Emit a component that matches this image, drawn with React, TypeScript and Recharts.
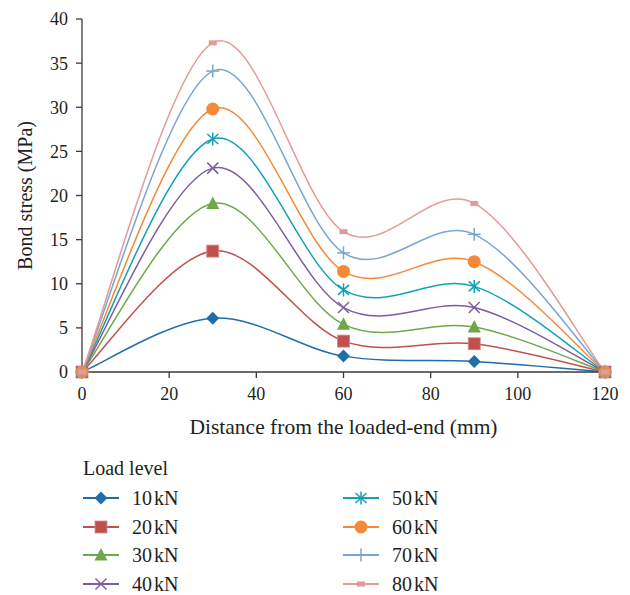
import { Line, LineChart, XAxis, YAxis } from 'recharts';

const DISTANCES = [0, 30, 60, 90, 120];
const LOAD_LEVELS = ['10', '20', '30', '40', '50', '60', '70', '80'];

const STRESS_10 = [0, 6.1, 1.8, 1.2, 0];
const STRESS_20 = [0, 13.7, 3.5, 3.2, 0];
const STRESS_30 = [0, 19.1, 5.4, 5.1, 0];
const STRESS_40 = [0, 23.1, 7.3, 7.3, 0];
const STRESS_50 = [0, 26.4, 9.3, 9.7, 0];
const STRESS_60 = [0, 29.8, 11.4, 12.5, 0];
const STRESS_70 = [0, 34.1, 13.5, 15.6, 0];
const STRESS_80 = [0, 37.3, 15.9, 19.1, 0];

const X_TICKS = [0, 20, 40, 60, 80, 100, 120];
const Y_TICKS = [0, 5, 10, 15, 20, 25, 30, 35, 40];

const SERIES = [
  STRESS_10, STRESS_20, STRESS_30, STRESS_40,
  STRESS_50, STRESS_60, STRESS_70, STRESS_80,
];

const COLORS = [
  '#1F6EAA', '#C0504D', '#6FA84A', '#7C5CA3',
  '#14A0B4', '#F5893A', '#7AA4D3', '#E49A99',
];
const SHAPES = ['diamond', 'square', 'triangle', 'cross', 'star', 'circle', 'plus', 'dash'];

const FONT = '"Liberation Serif", "DejaVu Serif", serif';
const TEXT_COLOR = '#231F20';
const AXIS_COLOR = '#3A3A3A';

const data = DISTANCES.map((x, i) => {
  const row: Record<string, number> = { x };
  LOAD_LEVELS.forEach((l, s) => {
    row[`kn${l}`] = SERIES[s][i];
  });
  return row;
});

// Excel-style smoothed line (Catmull-Rom through the points)
const excelSmooth = (context: any) => {
  let xs: number[] = [];
  let ys: number[] = [];
  return {
    areaStart() {},
    areaEnd() {},
    lineStart() {
      xs = [];
      ys = [];
    },
    point(x: number, y: number) {
      xs.push(+x);
      ys.push(+y);
    },
    lineEnd() {
      const n = xs.length;
      if (!n) return;
      context.moveTo(xs[0], ys[0]);
      for (let i = 0; i < n - 1; i++) {
        const a = Math.max(i - 1, 0);
        const b = Math.min(i + 2, n - 1);
        context.bezierCurveTo(
          xs[i] + (xs[i + 1] - xs[a]) / 6,
          ys[i] + (ys[i + 1] - ys[a]) / 6,
          xs[i + 1] - (xs[b] - xs[i]) / 6,
          ys[i + 1] - (ys[b] - ys[i]) / 6,
          xs[i + 1],
          ys[i + 1],
        );
      }
    },
  };
};

function Marker({ shape, cx, cy, color }: { shape: string; cx: number; cy: number; color: string }) {
  switch (shape) {
    case 'diamond':
      return (
        <polygon
          points={`${cx},${cy - 6.5} ${cx + 6.5},${cy} ${cx},${cy + 6.5} ${cx - 6.5},${cy}`}
          fill={color}
        />
      );
    case 'square':
      return <rect x={cx - 6} y={cy - 6} width={12} height={12} fill={color} stroke="#D98A88" strokeWidth={0.8} />;
    case 'triangle':
      return (
        <polygon
          points={`${cx},${cy - 7} ${cx + 6.5},${cy + 5.5} ${cx - 6.5},${cy + 5.5}`}
          fill={color}
        />
      );
    case 'cross':
      return (
        <g stroke={color} strokeWidth={1.5}>
          <line x1={cx - 5.5} y1={cy - 5.5} x2={cx + 5.5} y2={cy + 5.5} />
          <line x1={cx - 5.5} y1={cy + 5.5} x2={cx + 5.5} y2={cy - 5.5} />
        </g>
      );
    case 'star':
      return (
        <g stroke={color} strokeWidth={1.5}>
          <line x1={cx} y1={cy - 6.5} x2={cx} y2={cy + 6.5} />
          <line x1={cx - 5.5} y1={cy - 5} x2={cx + 5.5} y2={cy + 5} />
          <line x1={cx - 5.5} y1={cy + 5} x2={cx + 5.5} y2={cy - 5} />
        </g>
      );
    case 'circle':
      return <circle cx={cx} cy={cy} r={6.5} fill={color} />;
    case 'plus':
      return (
        <g stroke={color} strokeWidth={1.5}>
          <line x1={cx} y1={cy - 6.5} x2={cx} y2={cy + 6.5} />
          <line x1={cx - 6.5} y1={cy} x2={cx + 6.5} y2={cy} />
        </g>
      );
    default:
      return <rect x={cx - 4} y={cy - 2.5} width={8} height={5} fill={color} />;
  }
}

function LegendBlock() {
  return (
    <div style={{ position: 'absolute', left: 0, top: 0, fontFamily: FONT, color: TEXT_COLOR, fontSize: 20 }}>
      <div style={{ position: 'absolute', left: 83, top: 455, whiteSpace: 'nowrap', lineHeight: '26px' }}>
        Load level
      </div>
      {LOAD_LEVELS.map((l, i) => {
        const col = Math.floor(i / 4);
        const row = i % 4;
        const left = col === 0 ? 83 : 343;
        const cy = 498 + row * 28.6;
        return (
          <div key={l} style={{ position: 'absolute', left, top: cy - 13, height: 26, display: 'flex', alignItems: 'center', whiteSpace: 'nowrap' }}>
            <svg width={36} height={26} style={{ display: 'block' }}>
              <line x1={0} y1={13} x2={36} y2={13} stroke={COLORS[i]} strokeWidth={1.8} />
              <Marker shape={SHAPES[i]} cx={18} cy={13} color={COLORS[i]} />
            </svg>
            <span style={{ marginLeft: 13, lineHeight: '26px' }}>
              {l}
              <span style={{ marginLeft: 2 }}>kN</span>
            </span>
          </div>
        );
      })}
    </div>
  );
}

export default function App() {
  return (
    <div style={{ position: 'absolute', left: 0, top: 0, width: 630, height: 595, background: '#fff' }}>
      <LineChart
        width={630}
        height={595}
        data={data}
        margin={{ top: 19, right: 25, left: 20, bottom: 156 }}
      >
        <XAxis
          type="number"
          dataKey="x"
          domain={[0, 120]}
          ticks={X_TICKS}
          height={67}
          tickSize={6}
          tickMargin={9}
          stroke={AXIS_COLOR}
          strokeWidth={1.3}
          tick={{ fontSize: 18, fill: TEXT_COLOR, fontFamily: FONT }}
          label={{
            value: 'Distance from the loaded-end (mm)',
            position: 'insideBottom',
            offset: 5,
            style: { fontSize: 21.5, fill: TEXT_COLOR, fontFamily: FONT },
          }}
        />
        <YAxis
          type="number"
          domain={[0, 40]}
          ticks={Y_TICKS}
          width={62}
          tickSize={6}
          tickMargin={8}
          stroke={AXIS_COLOR}
          strokeWidth={1.3}
          tick={{ fontSize: 18, fill: TEXT_COLOR, fontFamily: FONT }}
          label={{
            value: 'Bond stress (MPa)',
            angle: -90,
            position: 'insideLeft',
            offset: 5,
            style: { fontSize: 20, fill: TEXT_COLOR, fontFamily: FONT, textAnchor: 'middle' },
          }}
        />
        {LOAD_LEVELS.map((l, i) => (
          <Line
            key={l}
            dataKey={`kn${l}`}
            name={`${l}kN`}
            type={excelSmooth as any}
            stroke={COLORS[i]}
            strokeWidth={1.5}
            isAnimationActive={false}
            dot={(p: any) => (
              <Marker key={`${l}-${p.index}`} shape={SHAPES[i]} cx={p.cx} cy={p.cy} color={COLORS[i]} />
            )}
            activeDot={false}
          />
        ))}
      </LineChart>
      <LegendBlock />
    </div>
  );
}
